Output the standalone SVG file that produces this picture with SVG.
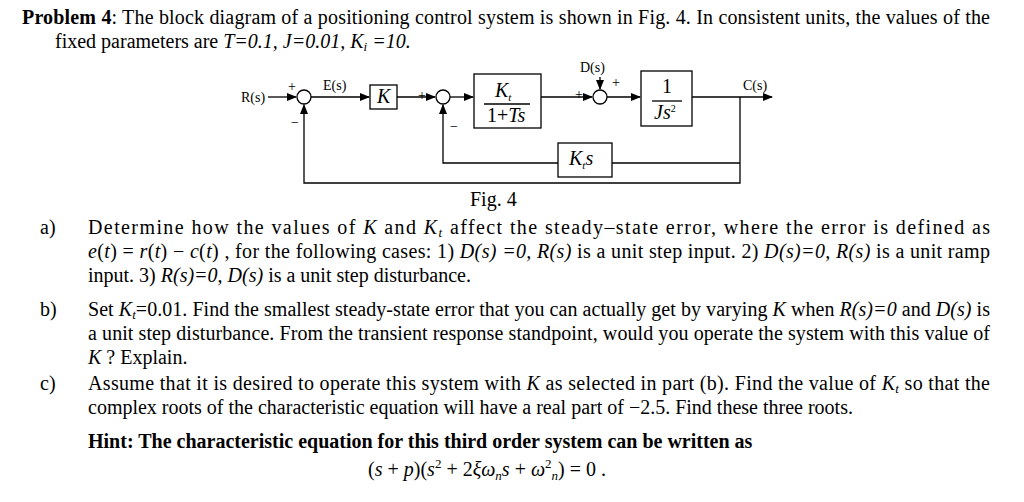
<svg xmlns="http://www.w3.org/2000/svg" width="1024" height="502" viewBox="0 0 1024 502">
<style>
text{font-family:"Liberation Serif","Times New Roman",serif;font-size:20px;fill:#000}
.s{font-size:14px}
.b{font-weight:bold}
.l{stroke:#000;stroke-width:1.3;fill:none}
.bx{stroke:#000;stroke-width:1.3;fill:#fff}
</style>
<defs><marker id="a" markerWidth="10" markerHeight="8" refX="9" refY="4" orient="auto" markerUnits="userSpaceOnUse"><path d="M0,0L10,4L0,8z" fill="#000"/></marker></defs>
<rect width="1024" height="502" fill="#fff"/>
<text x="22" y="24" textLength="968" lengthAdjust="spacing"><tspan class="b">Problem 4</tspan>: The block diagram of a positioning control system is shown in Fig. 4.  In consistent units, the values of the</text>
<text x="55" y="48">fixed parameters are <tspan font-style="italic">T=0.1, J=0.01, K<tspan font-size="13" dy="3">i</tspan><tspan dy="-3"> =10.</tspan></tspan></text>
<g id="connectors">
<path class="l" d="M268,97H296" marker-end="url(#a)"/>
<path class="l" d="M311,97H369" marker-end="url(#a)"/>
<path class="l" d="M397,97H435" marker-end="url(#a)"/>
<path class="l" d="M450,97H473" marker-end="url(#a)"/>
<path class="l" d="M541,97H592" marker-end="url(#a)"/>
<path class="l" d="M600,77V89" marker-end="url(#a)"/>
<path class="l" d="M607,97H640" marker-end="url(#a)"/>
<path class="l" d="M692,97H772" marker-end="url(#a)"/>
<path class="l" d="M740,97V183H304V105" marker-end="url(#a)"/>
<path class="l" d="M740,163H612"/>
<path class="l" d="M558,163H443V105" marker-end="url(#a)"/>
</g>
<g id="sum1"><circle class="bx" cx="304" cy="97" r="7"/><text class="s" x="288" y="91">+</text><text class="s" x="291" y="127">−</text></g>
<g id="sum2"><circle class="bx" cx="443" cy="97" r="7"/><text class="s" x="418" y="100">+</text><text class="s" x="450" y="131">−</text></g>
<g id="sum3"><circle class="bx" cx="600" cy="97" r="7"/><text class="s" x="575" y="99">+</text><text class="s" x="612" y="87">+</text></g>
<text class="s" x="241" y="102">R(s)</text>
<text class="s" x="323" y="90">E(s)</text>
<text class="s" x="580" y="72">D(s)</text>
<text class="s" x="743" y="90">C(s)</text>
<g id="K"><rect class="bx" x="370" y="85" width="27" height="24"/><text x="377" y="103" font-size="18" font-style="italic">K</text></g>
<g id="G1"><rect class="bx" x="474" y="74" width="67" height="54"/><text x="495" y="97" font-style="italic" font-size="16">K<tspan font-size="11" dy="4">t</tspan></text><path class="l" d="M484,104H530" stroke-width="1"/><text x="487" y="122" font-size="16">1+<tspan font-style="italic">Ts</tspan></text></g>
<g id="G2"><rect class="bx" x="641" y="71" width="51" height="55"/><text x="662" y="93" font-size="16">1</text><path class="l" d="M652,101H682" stroke-width="1"/><text x="654" y="119" font-size="16" font-style="italic">Js<tspan font-size="10" dy="-7" font-style="normal">2</tspan></text></g>
<g id="H"><rect class="bx" x="558" y="143" width="54" height="34"/><text x="569" y="165" font-size="17" font-style="italic">K<tspan font-size="11" dy="4">t</tspan><tspan dy="-4">s</tspan></text></g>
<text x="470" y="206">Fig. 4</text>
<text x="40" y="234">a)</text>
<text x="88" y="234" textLength="902" lengthAdjust="spacing">Determine how the values of <tspan font-style="italic">K</tspan> and <tspan font-style="italic">K<tspan font-size="13" dy="3">t</tspan></tspan><tspan dy="-3"> affect the steady–state error, where the error is defined as</tspan></text>
<text x="88" y="258" textLength="902" lengthAdjust="spacing"><tspan font-style="italic">e</tspan>(<tspan font-style="italic">t</tspan>) = <tspan font-style="italic">r</tspan>(<tspan font-style="italic">t</tspan>) − <tspan font-style="italic">c</tspan>(<tspan font-style="italic">t</tspan>) , for the following cases: 1) <tspan font-style="italic">D(s) =0, R(s)</tspan> is a unit step input. 2) <tspan font-style="italic">D(s)=0, R(s)</tspan> is a unit ramp</text>
<text x="88" y="282">input. 3) <tspan font-style="italic">R(s)=0, D(s)</tspan> is a unit step disturbance.</text>
<text x="40" y="316">b)</text>
<text x="88" y="316" textLength="902" lengthAdjust="spacing">Set <tspan font-style="italic">K<tspan font-size="13" dy="3">t</tspan></tspan><tspan dy="-3">=0.01. Find the smallest steady-state error that you can actually get by varying </tspan><tspan font-style="italic">K</tspan> when <tspan font-style="italic">R(s)=0</tspan> and <tspan font-style="italic">D(s)</tspan> is</text>
<text x="88" y="340" textLength="902" lengthAdjust="spacing">a unit step disturbance.  From the transient response standpoint, would you operate the system with this value of</text>
<text x="88" y="364"><tspan font-style="italic">K</tspan> ?  Explain.</text>
<text x="40" y="390">c)</text>
<text x="88" y="390" textLength="902" lengthAdjust="spacing">Assume that it is desired to operate this system with <tspan font-style="italic">K</tspan> as selected in part (b).  Find the value of <tspan font-style="italic">K<tspan font-size="13" dy="3">t</tspan></tspan><tspan dy="-3"> so that the</tspan></text>
<text x="88" y="414">complex roots of the characteristic equation will have a real part of −2.5.  Find these three roots.</text>
<text x="88" y="448" class="b" font-size="19">Hint:  The characteristic equation for this third order system can be written as</text>
<text x="368" y="476" font-size="21">(<tspan font-style="italic">s</tspan> + <tspan font-style="italic">p</tspan>)(<tspan font-style="italic">s</tspan><tspan font-size="13" dy="-8">2</tspan><tspan dy="8"> + 2</tspan><tspan font-style="italic">ξω<tspan font-size="13" dy="4">n</tspan><tspan dy="-4">s</tspan></tspan> + <tspan font-style="italic">ω</tspan><tspan font-size="13" dy="-8">2</tspan><tspan font-size="13" dy="12" font-style="italic">n</tspan><tspan dy="-4">) = 0 .</tspan></text>
</svg>
